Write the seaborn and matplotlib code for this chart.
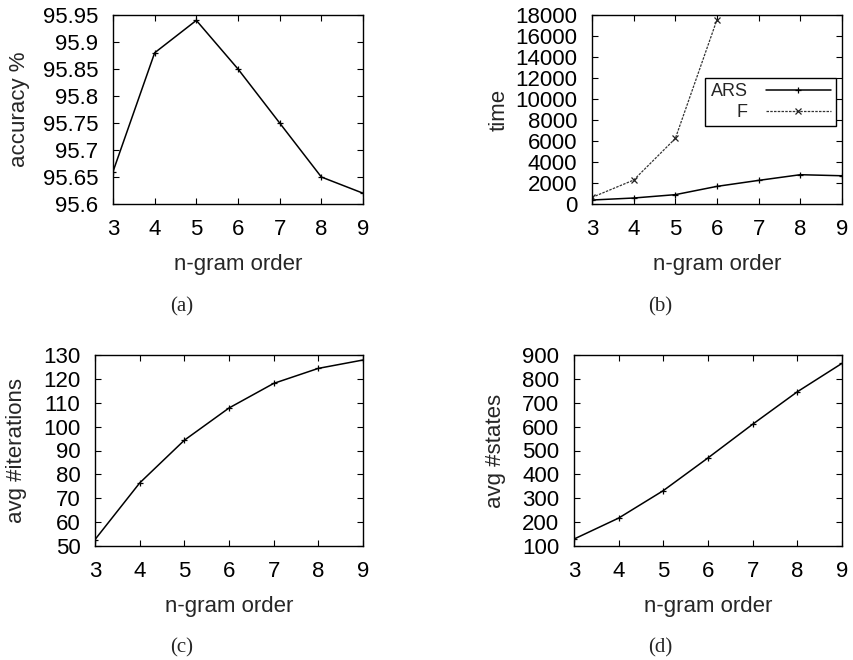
import matplotlib
matplotlib.use("Agg")
import matplotlib.pyplot as plt
import seaborn as sns
import pandas as pd

# n-gram orders on the x axis
orders = [3, 4, 5, 6, 7, 8, 9]

# (a) tagging accuracy
accuracy = [95.66, 95.88, 95.94, 95.85, 95.75, 95.65, 95.62]

# (b) running time, ARS for all orders, F only up to order 6
time_ars = [380, 570, 890, 1680, 2250, 2790, 2690]
orders_f = [3, 4, 5, 6]
time_f = [630, 2280, 6240, 17560]

# (c) average number of iterations
avg_iterations = [52.7, 76.4, 94.3, 107.8, 118.1, 124.4, 127.9]

# (d) average number of states
avg_states = [129, 217, 332, 469, 610, 746, 865]

sns.set_style("ticks")
plt.rcParams.update({
    "font.family": ["Liberation Sans", "DejaVu Sans"],
    "font.size": 16,
    "xtick.direction": "in",
    "ytick.direction": "in",
    "xtick.top": True,
    "ytick.right": True,
    "xtick.major.size": 4,
    "ytick.major.size": 4,
    "xtick.major.width": 0.8,
    "ytick.major.width": 0.8,
    "xtick.major.pad": 11,
    "ytick.major.pad": 10.5,
    "axes.linewidth": 1.0,
    "axes.edgecolor": "black",
    "xtick.color": "black",
    "ytick.color": "black",
    "xtick.labelsize": 16,
    "ytick.labelsize": 16,
    "axes.labelsize": 16,
})

fig = plt.figure(figsize=(8.54, 6.6), dpi=100)
W, H = 854, 660


def add_axes(left, top, right, bottom):
    return fig.add_axes([left / W, 1 - bottom / H, (right - left) / W, (bottom - top) / H])


def place_ylabel(ax, text, x_px, left, right):
    # put the rotated y label centred at a given horizontal pixel position
    ax.set_ylabel(text, va="center")
    ax.yaxis.set_label_coords((x_px - left) / (right - left), 0.5)


ax_a = add_axes(113, 15, 363, 204)
ax_b = add_axes(592, 15, 842, 204)
ax_c = add_axes(95, 355, 363, 546)
ax_d = add_axes(574, 355, 842, 546)

line_kw = dict(color="black", linewidth=1.1, marker="+", markersize=4,
               markeredgewidth=0.9, markeredgecolor="black")

# (a)
df_a = pd.DataFrame({"order": orders, "accuracy": accuracy})
sns.lineplot(data=df_a, x="order", y="accuracy", ax=ax_a, **line_kw)
ax_a.set_ylim(95.6, 95.95)
ax_a.set_yticks([95.6, 95.65, 95.7, 95.75, 95.8, 95.85, 95.9, 95.95])
ax_a.set_yticklabels(["95.6", "95.65", "95.7", "95.75", "95.8", "95.85", "95.9", "95.95"])
place_ylabel(ax_a, "accuracy %", 20, 113, 363)

# (b)
df_ars = pd.DataFrame({"order": orders, "time": time_ars})
df_f = pd.DataFrame({"order": orders_f, "time": time_f})
sns.lineplot(data=df_ars, x="order", y="time", ax=ax_b, label="ARS", **line_kw)
sns.lineplot(data=df_f, x="order", y="time", ax=ax_b, label="F",
             color="#333333", linewidth=0.9, linestyle=(0, (2, 1)),
             marker="x", markersize=4, markeredgewidth=0.9,
             markeredgecolor="#222222")
ax_b.set_ylim(0, 18000)
ax_b.set_yticks(range(0, 18001, 2000))
place_ylabel(ax_b, "time", 499.5, 592, 842)
leg = ax_b.legend(loc="upper right", bbox_to_anchor=(836 / W, 1 - 78 / H),
                  bbox_transform=fig.transFigure, markerfirst=False,
                  frameon=True, fancybox=False, framealpha=1, edgecolor="black",
                  handlelength=3.6, handletextpad=1.0, borderpad=0.3,
                  labelspacing=0.2, fontsize=13, borderaxespad=0)
leg.get_frame().set_linewidth(1.0)

# (c)
df_c = pd.DataFrame({"order": orders, "iterations": avg_iterations})
sns.lineplot(data=df_c, x="order", y="iterations", ax=ax_c, **line_kw)
ax_c.set_ylim(50, 130)
ax_c.set_yticks(range(50, 131, 10))
place_ylabel(ax_c, "avg #iterations", 16.5, 95, 363)

# (d)
df_d = pd.DataFrame({"order": orders, "states": avg_states})
sns.lineplot(data=df_d, x="order", y="states", ax=ax_d, **line_kw)
ax_d.set_ylim(100, 900)
ax_d.set_yticks(range(100, 901, 100))
place_ylabel(ax_d, "avg #states", 496, 574, 842)

for ax in (ax_a, ax_b, ax_c, ax_d):
    ax.set_xlim(3, 9)
    ax.set_xticks(orders)
    ax.set_xlabel("n-gram order", labelpad=10)
    for side in ax.spines.values():
        side.set_visible(True)
        side.set_color("black")

# sub-figure captions
caption_kw = dict(ha="center", va="center", fontsize=15,
                  family=["Liberation Serif", "DejaVu Serif"])
fig.text(182 / W, 1 - 307 / H, "(a)", **caption_kw)
fig.text(660 / W, 1 - 307 / H, "(b)", **caption_kw)
fig.text(182 / W, 1 - 648 / H, "(c)", **caption_kw)
fig.text(660 / W, 1 - 648 / H, "(d)", **caption_kw)

fig.savefig("out.png", dpi=100)
